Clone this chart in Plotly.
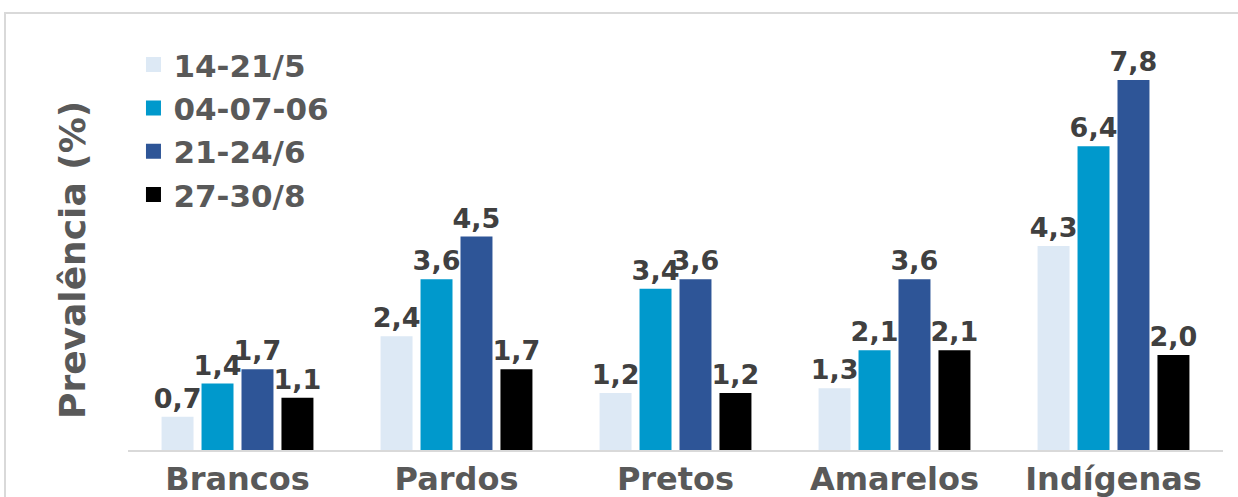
import plotly.graph_objects as go

categories = ["Brancos", "Pardos", "Pretos", "Amarelos", "Indígenas"]
series_names = ["14-21/5", "04-07-06", "21-24/6", "27-30/8"]
s1 = [0.7, 2.4, 1.2, 1.3, 4.3]
s2 = [1.4, 3.6, 3.4, 2.1, 6.4]
s3 = [1.7, 4.5, 3.6, 3.6, 7.8]
s4 = [1.1, 1.7, 1.2, 2.1, 2.0]
colors = ["#dde9f5", "#0099cc", "#2e5597", "#000000"]

W, H = 1238, 497
L, R, T, B = 128, 15, 23, 47

fig = go.Figure()
for name, vals, col in zip(series_names, [s1, s2, s3, s4], colors):
    fig.add_trace(go.Bar(
        x=categories, y=vals, name=name, showlegend=False,
        marker=dict(color=col, line=dict(width=0)),
        text=[f"{v:.1f}".replace(".", ",") for v in vals],
        textposition="outside",
        textfont=dict(family="DejaVu Sans", size=27, color="#404040", weight="bold"),
        constraintext="none",
        cliponaxis=False,
    ))

# legend entries with larger square swatches
for name, col in zip(series_names, colors):
    fig.add_trace(go.Scatter(
        x=[None], y=[None], mode="markers", name=name,
        marker=dict(symbol="square", size=15, color=col, line=dict(width=0)),
    ))

pw = W - L - R
ph = H - T - B
fig.add_shape(type="rect", xref="paper", yref="paper",
              x0=(5 - L) / pw, x1=1.2, y0=-0.3, y1=(H - B - 13) / ph,
              line=dict(color="#d9d9d9", width=2), layer="below")

# vertical axis title
fig.add_annotation(text="Prevalência (%)", textangle=-90, showarrow=False,
                   xref="paper", yref="paper",
                   x=(72 - L) / pw, y=(H - B - 260) / ph,
                   xanchor="center", yanchor="middle",
                   font=dict(family="DejaVu Sans", size=36, color="#595959", weight="bold"))

fig.update_layout(
    width=W, height=H,
    margin=dict(l=L, r=R, t=T, b=B, autoexpand=False),
    paper_bgcolor="white", plot_bgcolor="white",
    barmode="group", bargap=0.27, bargroupgap=0.2,
    font=dict(family="DejaVu Sans", color="#595959", weight="bold"),
    showlegend=True,
    legend=dict(x=0.005, y=0.965, xanchor="left", yanchor="top",
                font=dict(family="DejaVu Sans", size=31, color="#595959", weight="bold"),
                bgcolor="rgba(0,0,0,0)", traceorder="normal"),
    xaxis=dict(showline=True, linecolor="#d9d9d9", linewidth=2, ticks="",
               automargin=False,
               tickfont=dict(family="DejaVu Sans", size=32, color="#595959", weight="bold"),
               showgrid=False, zeroline=False),
    yaxis=dict(range=[0, 9], showticklabels=False, showgrid=False, zeroline=False,
               ticks="", showline=False, automargin=False),
)

fig.write_html("out.html")
